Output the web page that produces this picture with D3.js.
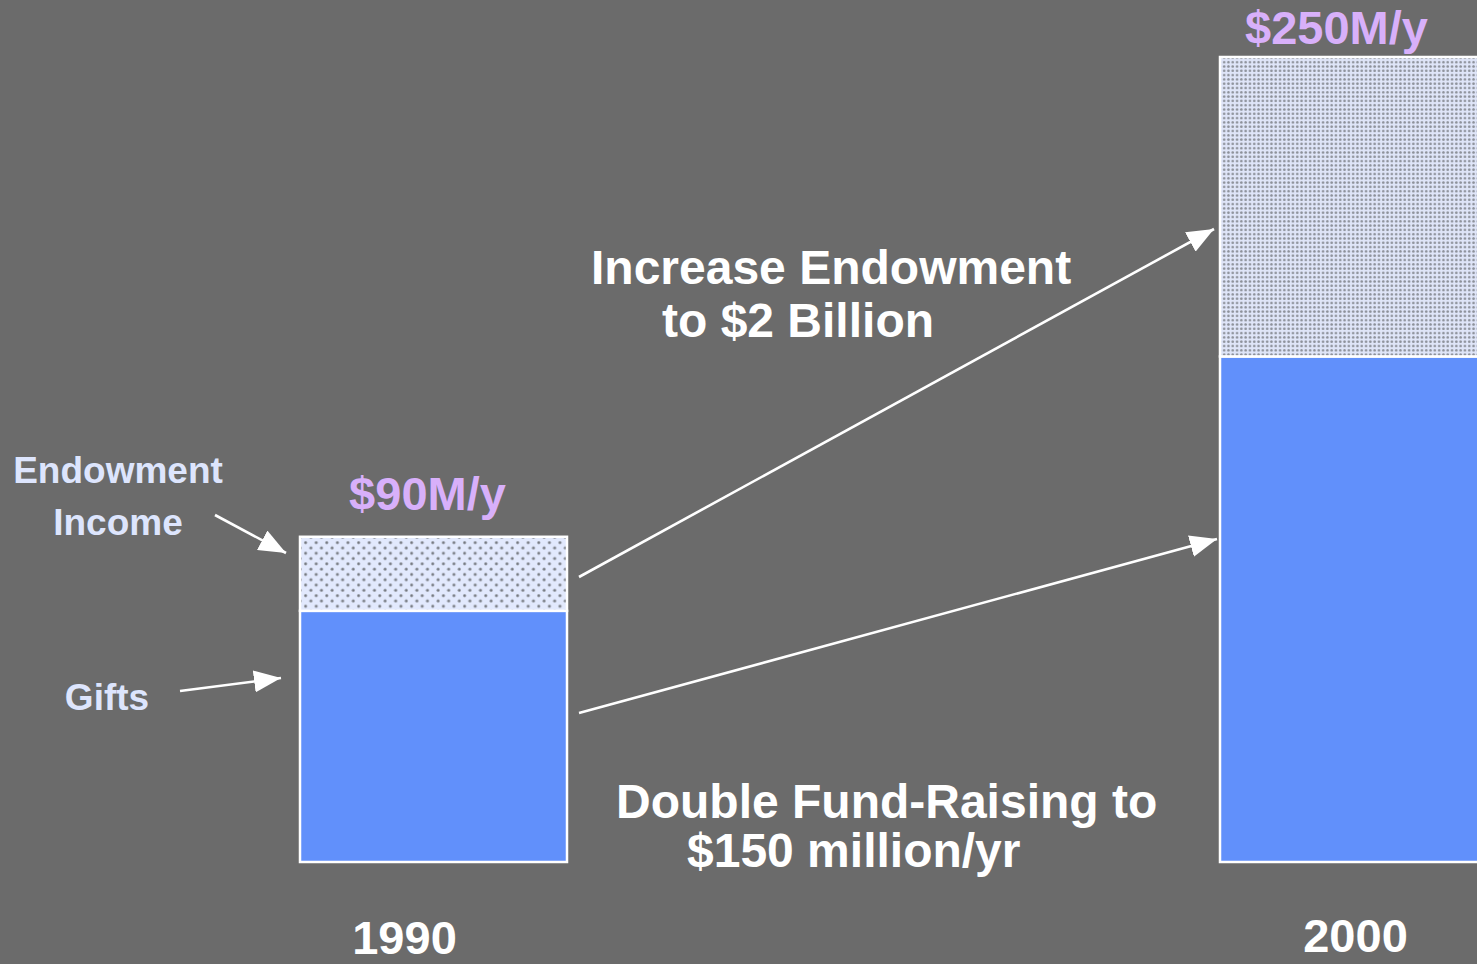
<!DOCTYPE html>
<html>
<head>
<meta charset="utf-8">
<script src="https://cdn.jsdelivr.net/npm/d3@7"></script>
<style>
  html, body { margin: 0; padding: 0; background: #6b6b6b; overflow: hidden; }
  svg { display: block; font-family: "Liberation Sans", Arial, sans-serif; font-weight: bold; }
</style>
</head>
<body>
<svg id="chart" width="1477" height="964"></svg>
<script>
// ---- data ----
const years = [1990, 2000];
const gifts = [78, 157];          // $M/y
const endowmentIncome = [23, 93]; // $M/y
const totalLabels = ["$90M/y", "$250M/y"];
const yearLabels = ["1990", "2000"];
const seriesNames = ["Gifts", "Endowment Income"];

// ---- layout ----
const W = 1477, H = 964;
const baseY = 862, topY = 57;
const barW = 267;
const svg = d3.select("#chart");

const x = d3.scaleLinear().domain([1990, 2000]).range([300, 1220]);
const y = d3.scaleLinear().domain([0, 250]).range([baseY, topY]);

svg.append("rect").attr("width", W).attr("height", H).attr("fill", "#6b6b6b");

const defs = svg.append("defs");
// sparse dotted pattern (1990)
const p1 = defs.append("pattern").attr("id", "dots1").attr("patternUnits", "userSpaceOnUse")
  .attr("width", 10.6).attr("height", 10.6).attr("x", 303).attr("y", 540);
p1.append("rect").attr("width", 10.6).attr("height", 10.6).attr("fill", "#e2e9fd");
[[2.6, 2.6], [7.9, 7.9]].forEach(([cx, cy]) => {
  p1.append("circle").attr("cx", cx).attr("cy", cy).attr("r", 1.7).attr("fill", "#9ea3ad");
  p1.append("circle").attr("cx", cx).attr("cy", cy).attr("r", 0.9).attr("fill", "#70747c");
});
// dense dotted pattern (2000)
const p2 = defs.append("pattern").attr("id", "dots2").attr("patternUnits", "userSpaceOnUse")
  .attr("width", 4.3).attr("height", 4.3).attr("x", 1222).attr("y", 60);
p2.append("rect").attr("width", 4.3).attr("height", 4.3).attr("fill", "#dfe5f8");
p2.append("circle").attr("cx", 2.15).attr("cy", 2.15).attr("r", 1.3).attr("fill", "#8c9099");

// arrow marker
defs.append("marker").attr("id", "head").attr("viewBox", "0 0 10 10")
  .attr("refX", 10).attr("refY", 5).attr("markerUnits", "userSpaceOnUse")
  .attr("markerWidth", 27).attr("markerHeight", 22).attr("orient", "auto")
  .attr("preserveAspectRatio", "none")
  .append("path").attr("d", "M0,0 L10,5 L0,10 Z").attr("fill", "#ffffff");

// ---- bars ----
const rows = years.map((yr, i) => ({ yr, i, g: gifts[i], e: endowmentIncome[i] }));
const bars = svg.append("g");
bars.selectAll("rect.gifts").data(rows).join("rect").attr("class", "gifts")
  .attr("x", d => x(d.yr)).attr("width", barW)
  .attr("y", d => y(d.g)).attr("height", d => y(0) - y(d.g))
  .attr("fill", "#6190fb").attr("stroke", "#ffffff").attr("stroke-width", 2.5);
bars.selectAll("rect.endow").data(rows).join("rect").attr("class", "endow")
  .attr("x", d => x(d.yr)).attr("width", barW)
  .attr("y", d => y(d.g + d.e)).attr("height", d => y(d.g) - y(d.g + d.e))
  .attr("fill", d => d.i === 0 ? "url(#dots1)" : "url(#dots2)")
  .attr("stroke", "#ffffff").attr("stroke-width", 2.5);

// totals
const totalDx = [-6, -17], totalDy = [-27, -13];
svg.selectAll("text.total").data(rows).join("text").attr("class", "total")
  .attr("x", d => x(d.yr) + barW / 2 + totalDx[d.i])
  .attr("y", d => y(d.g + d.e) + totalDy[d.i])
  .attr("text-anchor", "middle").attr("font-size", 47).attr("fill", "#d8b0fa")
  .text(d => totalLabels[d.i]);

// year labels
const yearDx = [-29, 2], yearY = [954, 952];
svg.selectAll("text.year").data(rows).join("text").attr("class", "year")
  .attr("x", d => x(d.yr) + barW / 2 + yearDx[d.i])
  .attr("y", d => yearY[d.i])
  .attr("text-anchor", "middle").attr("font-size", 47).attr("fill", "#ffffff")
  .text(d => yearLabels[d.i]);

// ---- left legend-like labels ----
const lab = svg.append("g").attr("fill", "#dde5fd").attr("font-size", 37).attr("text-anchor", "middle");
lab.append("text").attr("x", 118).attr("y", 483).text("Endowment");
lab.append("text").attr("x", 118).attr("y", 535).text("Income");
lab.append("text").attr("x", 107).attr("y", 710).text(seriesNames[0]);

const arrows = svg.append("g").attr("stroke", "#ffffff").attr("stroke-width", 2.6).attr("fill", "none");
function arrow(x1, y1, x2, y2) {
  arrows.append("line").attr("x1", x1).attr("y1", y1).attr("x2", x2).attr("y2", y2)
    .attr("marker-end", "url(#head)");
}
arrow(215, 515, 286, 553);
arrow(180, 691, 281, 678);
const x1990R = x(1990) + barW + 12, x2000L = x(2000) - 6;
arrow(x1990R, 577, x2000L, 229);
arrow(x1990R, 713, x2000L + 3, 539);

// ---- annotations ----
const ann = svg.append("g").attr("fill", "#ffffff").attr("font-size", 48);
ann.append("text").attr("x", 591).attr("y", 284).text("Increase Endowment");
ann.append("text").attr("x", 662).attr("y", 337).text("to $2 Billion");
ann.append("text").attr("x", 616).attr("y", 818).text("Double Fund-Raising to");
ann.append("text").attr("x", 687).attr("y", 867).text("$150 million/yr");
</script>
</body>
</html>
